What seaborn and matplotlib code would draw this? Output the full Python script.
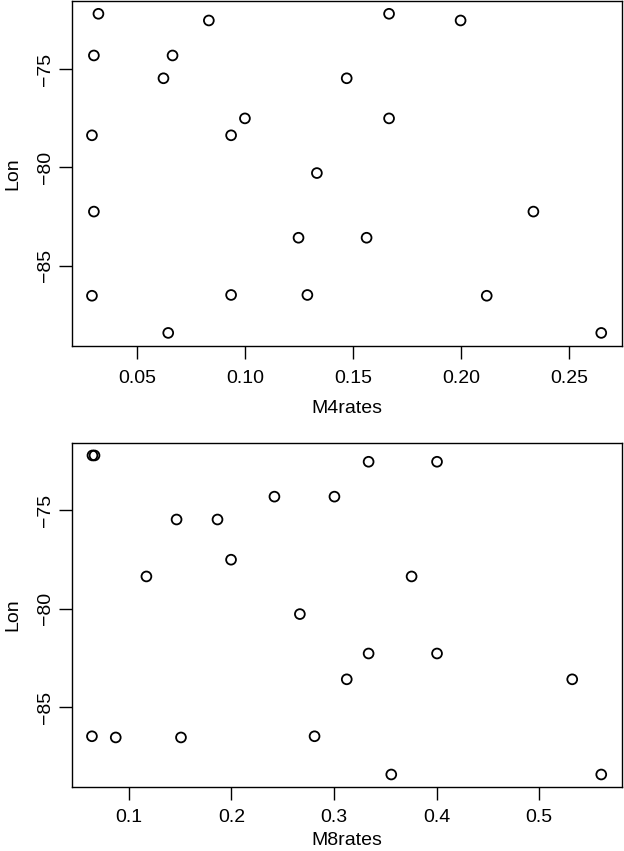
import numpy as np
import pandas as pd
import matplotlib
matplotlib.use("Agg")
import matplotlib.pyplot as plt
import seaborn as sns

# ── DATA ─────────────────────────────────────────────────────────────────────
m4_rates = [0.0322, 0.0301, 0.0665, 0.0833, 0.1667, 0.1998, 0.0623, 0.1471,
            0.1000, 0.1667, 0.0292, 0.0936, 0.1333, 0.0301, 0.2335, 0.1248,
            0.1563, 0.0292, 0.0936, 0.1289, 0.2119, 0.0645, 0.2649]
m4_lon = [-72.19, -74.31, -74.31, -72.53, -72.19, -72.53, -75.47, -75.47,
          -77.51, -77.51, -78.37, -78.37, -80.29, -82.25, -82.25, -83.58,
          -83.58, -86.53, -86.49, -86.49, -86.53, -88.42, -88.42]

m8_rates = [0.0645, 0.0665, 0.3337, 0.4004, 0.2419, 0.3004, 0.1465, 0.1864,
            0.1996, 0.1171, 0.3756, 0.2667, 0.3337, 0.4004, 0.3124, 0.5322,
            0.0640, 0.0872, 0.1508, 0.2810, 0.3558, 0.5605]
m8_lon = [-72.22, -72.22, -72.54, -72.54, -74.31, -74.31, -75.47, -75.47,
          -77.51, -78.36, -78.36, -80.27, -82.27, -82.27, -83.58, -83.58,
          -86.47, -86.53, -86.53, -86.47, -88.41, -88.41]

x_ticks_top = [0.05, 0.10, 0.15, 0.20, 0.25]
x_labels_top = ["0.05", "0.10", "0.15", "0.20", "0.25"]
x_ticks_bot = [0.1, 0.2, 0.3, 0.4, 0.5]
x_labels_bot = ["0.1", "0.2", "0.3", "0.4", "0.5"]
y_ticks = [-75, -80, -85]
y_labels = ["\u221275", "\u221280", "\u221285"]

# ── STYLE ────────────────────────────────────────────────────────────────────
sns.set_style("white")
plt.rcParams["font.family"] = ["Liberation Sans", "DejaVu Sans"]
plt.rcParams["axes.linewidth"] = 1.0


def r_lim(vals):
    # R-style 4% range extension
    lo, hi = min(vals), max(vals)
    pad = 0.04 * (hi - lo)
    return lo - pad, hi + pad


def draw_panel(ax, x, y, xlabel, xticks, xlabels, xpad, xlabelpad):
    df = pd.DataFrame({"x": x, "y": y})
    sns.scatterplot(data=df, x="x", y="y", ax=ax, marker="o", s=50,
                    facecolor="none", edgecolor="black", linewidth=1.3)
    ax.set_xlim(*r_lim(x))
    ax.set_ylim(*r_lim(y))
    ax.set_xticks(xticks)
    ax.set_xticklabels(xlabels)
    ax.set_yticks(y_ticks)
    ax.set_yticklabels(y_labels, rotation=90, va="center")
    ax.tick_params(axis="both", direction="out", length=9.3, width=1.0,
                   color="black", labelsize=14, labelcolor="black",
                   bottom=True, left=True)
    ax.tick_params(axis="x", pad=xpad)
    ax.tick_params(axis="y", pad=3.5)
    ax.set_xlabel(xlabel, fontsize=14, labelpad=xlabelpad, color="black")
    ax.set_ylabel("Lon", fontsize=14, labelpad=11, color="black")
    for sp in ax.spines.values():
        sp.set_visible(True)
        sp.set_color("black")
        sp.set_linewidth(1.0)


fig = plt.figure(figsize=(6.24, 8.51), dpi=100)
ax1 = fig.add_axes([0.1147, 0.5938, 0.8815, 0.4050])
ax2 = fig.add_axes([0.1147, 0.0749, 0.8815, 0.4049])

draw_panel(ax1, m4_rates, m4_lon, "M4rates", x_ticks_top, x_labels_top, 8.5, 9)
draw_panel(ax2, m8_rates, m8_lon, "M8rates", x_ticks_bot, x_labels_bot, 6.5, 4.5)

fig.savefig("out.png", dpi=100)
plt.close(fig)
